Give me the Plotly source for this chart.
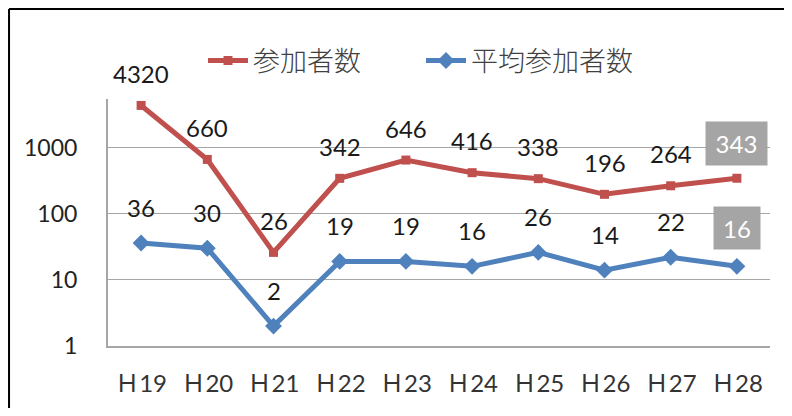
import numpy as np
import plotly.graph_objects as go

categories = ["H19", "H20", "H21", "H22", "H23", "H24", "H25", "H26", "H27", "H28"]
participants = [4320, 660, 26, 342, 646, 416, 338, 196, 264, 343]
avg_participants = [36, 30, 2, 19, 19, 16, 26, 14, 22, 16]
series_names = ["参加者数", "平均参加者数"]
y_tick_vals = [1, 10, 100, 1000]
y_tick_text = ["1", "10", "100", "1000"]
tick_text_x = ["Ｈ" + c[1:] for c in categories]

RED = "#C0504D"
BLUE = "#4F81BD"

fig = go.Figure()
fig.add_trace(go.Scatter(
    x=categories, y=participants, name=series_names[0], mode="lines+markers",
    line=dict(color=RED, width=5), marker=dict(symbol="square", size=9, color=RED),
))
fig.add_trace(go.Scatter(
    x=categories, y=avg_participants, name=series_names[1], mode="lines+markers",
    line=dict(color=BLUE, width=5), marker=dict(symbol="diamond", size=13, color=BLUE),
))

annotations = []
for i, (c, v) in enumerate(zip(categories, participants)):
    last = i == len(categories) - 1
    annotations.append(dict(
        x=c, y=np.log10(v), text=str(v), showarrow=False,
        yshift=35 if last else 32,
        font=dict(family="Lato", size=24, color="white" if last else "#1a1a1a"),
        bgcolor="#A5A5A5" if last else None,
        width=61 if last else None, height=43 if last else None, borderpad=0,
    ))
for i, (c, v) in enumerate(zip(categories, avg_participants)):
    last = i == len(categories) - 1
    annotations.append(dict(
        x=c, y=np.log10(v), text=str(v), showarrow=False,
        yshift=38 if last else 36,
        font=dict(family="Lato", size=24, color="white" if last else "#1a1a1a"),
        bgcolor="#A5A5A5" if last else None,
        width=46 if last else None, height=42 if last else None, borderpad=0,
    ))

fig.update_layout(
    width=776, height=400,
    margin=dict(l=100, r=14, t=91, b=62),
    paper_bgcolor="white", plot_bgcolor="white",
    showlegend=True,
    legend=dict(
        orientation="h", x=0.1435, xanchor="left", y=1.154, yanchor="middle",
        font=dict(family="Noto Sans CJK JP", size=27, color="#404040", weight=300),
        entrywidth=163, entrywidthmode="pixels", itemwidth=40,
        bgcolor="rgba(0,0,0,0)",
    ),
    annotations=annotations,
    shapes=[
        dict(type="line", xref="paper", yref="paper",
             x0=-0.1495, x1=1.5, y0=1.3644, y1=1.3644,
             line=dict(color="black", width=2)),
        dict(type="line", xref="paper", yref="paper",
             x0=-0.1495, x1=-0.1495, y0=-1.0, y1=1.3644,
             line=dict(color="black", width=2)),
    ],
)
fig.update_xaxes(
    type="category", range=[-0.5, 9.5],
    tickvals=categories, ticktext=tick_text_x,
    showline=True, linecolor="#A6A6A6", linewidth=2,
    showgrid=False, ticks="", ticklabelstandoff=15,
    tickfont=dict(family="Lato, Noto Sans CJK JP", size=24, color="#333333"),
)
fig.update_yaxes(
    type="log", range=[0, 3.733],
    tickvals=y_tick_vals, ticktext=y_tick_text,
    showline=True, linecolor="#A6A6A6", linewidth=2,
    showgrid=True, gridcolor="#A6A6A6", gridwidth=1,
    ticks="", ticklabelstandoff=24, zeroline=False,
    tickfont=dict(family="Lato", size=23, color="#222222"),
)

fig.write_html("out.html", config={"displayModeBar": False})
